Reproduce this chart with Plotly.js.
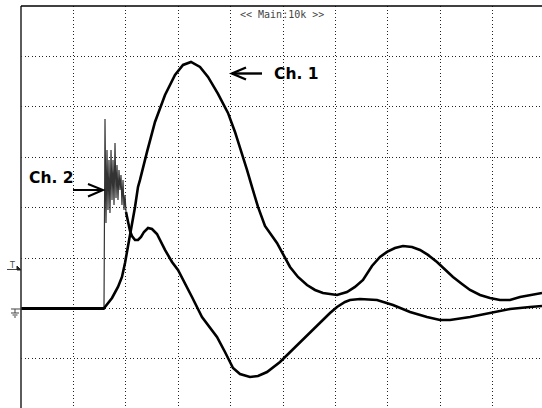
<!DOCTYPE html>
<html>
<head>
<meta charset="utf-8">
<script src="https://cdn.plot.ly/plotly-3.0.1.min.js"></script>
<style>html,body{margin:0;padding:0;background:#fff;}#chart{width:542px;height:408px;}</style>
</head>
<body>
<div id="chart"></div>
<script>
// Values in screen divisions (x: time div from left edge, y: div relative to ground)
const ch1X = [0, 1.584, 1.603, 1.737, 1.851, 1.927, 1.985, 2.080, 2.176, 2.233, 2.271, 2.405, 2.557, 2.748, 2.939, 3.092, 3.244, 3.416, 3.569, 3.760, 3.950, 4.084, 4.218, 4.313, 4.408, 4.523, 4.656, 4.790, 4.885, 5.019, 5.134, 5.286, 5.458, 5.611, 5.763, 6.031, 6.221, 6.374, 6.527, 6.698, 6.851, 6.985, 7.137, 7.290, 7.462, 7.615, 7.767, 7.939, 8.092, 8.244, 8.416, 8.569, 8.760, 8.950, 9.141, 9.332, 9.523, 9.714, 9.943];
const ch1Y = [0, 0, 0.030, 0.208, 0.427, 0.625, 0.903, 1.419, 2.014, 2.411, 2.550, 3.105, 3.700, 4.236, 4.633, 4.831, 4.891, 4.792, 4.593, 4.256, 3.879, 3.502, 3.085, 2.748, 2.411, 2.014, 1.637, 1.438, 1.300, 1.042, 0.823, 0.625, 0.466, 0.367, 0.308, 0.268, 0.327, 0.427, 0.565, 0.843, 1.022, 1.121, 1.200, 1.240, 1.220, 1.161, 1.062, 0.923, 0.764, 0.625, 0.486, 0.367, 0.268, 0.208, 0.169, 0.169, 0.228, 0.268, 0.308];

const ch2BaseX = [0, 1.584];
const ch2BaseY = [0, 0];
const ch2BurstX = [1.584, 1.603, 1.622, 1.641, 1.660, 1.679, 1.698, 1.718, 1.737, 1.756, 1.775, 1.794, 1.813, 1.832, 1.851, 1.870, 1.889, 1.908, 1.927, 1.947, 1.966, 1.985, 2.004];
const ch2BurstY = [0, 3.760, 1.696, 3.145, 1.954, 2.946, 1.895, 3.145, 2.153, 2.946, 2.054, 3.284, 2.192, 2.847, 2.153, 2.748, 2.351, 2.649, 2.054, 2.550, 1.954, 2.252, 1.915];
const ch2TailX = [2.004, 2.042, 2.080, 2.118, 2.176, 2.233, 2.290, 2.347, 2.424, 2.500, 2.595, 2.748, 2.882, 2.996, 3.130, 3.263, 3.454, 3.607, 3.740, 3.893, 4.046, 4.179, 4.370, 4.523, 4.695, 4.943, 5.134, 5.324, 5.515, 5.706, 5.897, 6.031, 6.183, 6.279, 6.469, 6.794, 7.099, 7.424, 7.748, 7.996, 8.187, 8.569, 8.950, 9.332, 9.714, 9.943];
const ch2TailY = [1.915, 1.696, 1.538, 1.438, 1.359, 1.359, 1.419, 1.518, 1.597, 1.577, 1.478, 1.161, 0.923, 0.764, 0.506, 0.228, -0.169, -0.387, -0.565, -0.863, -1.181, -1.300, -1.359, -1.339, -1.260, -1.062, -0.863, -0.685, -0.486, -0.288, -0.089, 0.030, 0.129, 0.169, 0.188, 0.169, 0.069, -0.069, -0.169, -0.228, -0.228, -0.169, -0.089, -0.010, 0.030, 0.050];

const headerText = "&lt;&lt; Main:10k &gt;&gt;";
const label1 = "Ch. 1";
const label2 = "Ch. 2";

const W = 542, H = 408, L = 21, T = 6;
const pw = W - L, ph = H - T;
const fx = px => (px - L) / pw;
const fy = py => (H - py) / ph;
const path = pts => pts.map((p, i) => (i ? 'L' : 'M') + fx(p[0]).toFixed(5) + ',' + fy(p[1]).toFixed(5)).join(' ');

const traceStyle = {type: 'scatter', mode: 'lines', hoverinfo: 'skip', showlegend: false};
const data = [
  Object.assign({x: ch2BaseX, y: ch2BaseY, line: {color: '#000', width: 3}}, traceStyle),
  Object.assign({x: ch2BurstX, y: ch2BurstY, line: {color: '#333', width: 1.2}}, traceStyle),
  Object.assign({x: ch2TailX, y: ch2TailY, line: {color: '#000', width: 2.6}}, traceStyle),
  Object.assign({x: ch1X, y: ch1Y, line: {color: '#000', width: 2.6}}, traceStyle)
];

const gridAxis = {
  showgrid: true, gridcolor: '#222', gridwidth: 1, griddash: '1px,2.5px',
  zeroline: false, showticklabels: false, ticks: '', showline: false,
  dtick: 1, tick0: 0, fixedrange: true
};

const shapes = [
  {type: 'line', xref: 'paper', yref: 'paper', x0: fx(21), x1: fx(21), y0: fy(6), y1: fy(408), line: {color: '#333', width: 1.6}},
  {type: 'line', xref: 'paper', yref: 'paper', x0: fx(21), x1: fx(542), y0: fy(6), y1: fy(6), line: {color: '#000', width: 1.6}},
  // Ch1 arrow
  {type: 'path', xref: 'paper', yref: 'paper', path: path([[262, 73.5], [232, 73.5]]), line: {color: '#000', width: 2.4}},
  {type: 'path', xref: 'paper', yref: 'paper', path: path([[246, 67.5], [232, 73.5], [246, 79.5]]), line: {color: '#000', width: 2.4}},
  // Ch2 arrow
  {type: 'path', xref: 'paper', yref: 'paper', path: path([[73, 190], [103, 190]]), line: {color: '#000', width: 2}},
  {type: 'path', xref: 'paper', yref: 'paper', path: path([[88, 184], [103, 190], [88, 196.5]]), line: {color: '#000', width: 2}},
  // trigger marker
  {type: 'path', xref: 'paper', yref: 'paper', path: path([[7, 269.5], [18, 269.5]]), line: {color: '#444', width: 1}},
  {type: 'path', xref: 'paper', yref: 'paper', path: path([[17, 266], [21, 270], [17, 270]]) + ' Z', fillcolor: '#222', line: {color: '#222', width: 1}},
  // ground marker
  {type: 'path', xref: 'paper', yref: 'paper', path: path([[11, 309], [21, 309]]), line: {color: '#444', width: 1}},
  {type: 'path', xref: 'paper', yref: 'paper', path: path([[15, 309], [15, 313]]), line: {color: '#444', width: 1}},
  {type: 'path', xref: 'paper', yref: 'paper', path: path([[11, 313], [19, 313]]), line: {color: '#444', width: 1}},
  {type: 'path', xref: 'paper', yref: 'paper', path: path([[12.5, 315], [17.5, 315]]), line: {color: '#444', width: 1}},
  {type: 'path', xref: 'paper', yref: 'paper', path: path([[14, 317], [16, 317]]), line: {color: '#444', width: 1}}
];

const annotations = [
  {xref: 'paper', yref: 'paper', x: fx(281.5), y: fy(14), text: headerText, showarrow: false,
   xanchor: 'center', yanchor: 'middle', font: {family: 'DejaVu Sans Mono', size: 10, color: '#444'}},
  {xref: 'paper', yref: 'paper', x: fx(296), y: fy(74), text: '<b>' + label1 + '</b>', showarrow: false,
   xanchor: 'center', yanchor: 'middle', font: {family: 'DejaVu Sans', size: 15.5, color: '#000'}},
  {xref: 'paper', yref: 'paper', x: fx(51), y: fy(178), text: '<b>' + label2 + '</b>', showarrow: false,
   xanchor: 'center', yanchor: 'middle', font: {family: 'DejaVu Sans', size: 15.5, color: '#000'}},
  {xref: 'paper', yref: 'paper', x: fx(11.5), y: fy(265), text: 'T', showarrow: false,
   xanchor: 'center', yanchor: 'middle', font: {family: 'DejaVu Sans', size: 8, color: '#444'}}
];

const layout = {
  width: W, height: H,
  margin: {l: L, r: 0, t: T, b: 0, pad: 0},
  paper_bgcolor: '#fff', plot_bgcolor: '#fff',
  showlegend: false,
  xaxis: Object.assign({range: [0, (W - L) / 52.4]}, gridAxis),
  yaxis: Object.assign({range: [-(H - 308.5) / 50.4, 6]}, gridAxis),
  shapes: shapes,
  annotations: annotations
};

Plotly.newPlot('chart', data, layout, {staticPlot: true, displayModeBar: false});
</script>
</body>
</html>
